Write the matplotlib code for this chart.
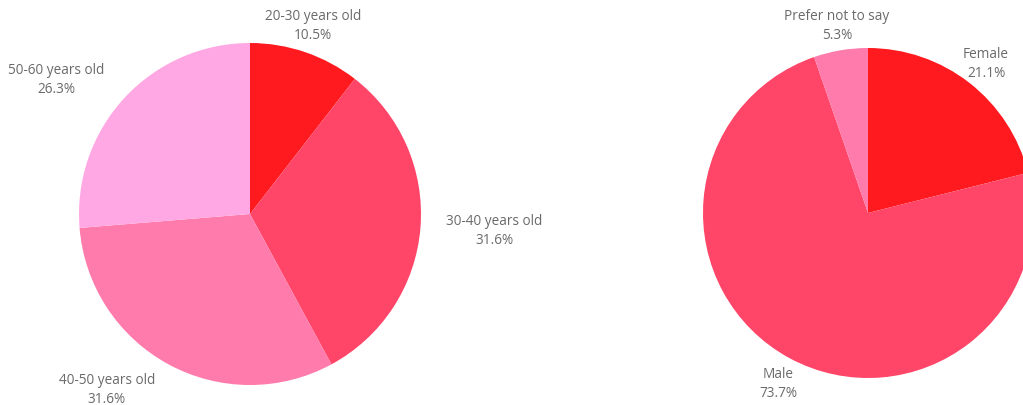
import matplotlib
matplotlib.use("Agg")
import matplotlib.pyplot as plt

# Age distribution
age_labels = ["20-30 years old", "30-40 years old", "40-50 years old", "50-60 years old"]
age_values = [10.5, 31.6, 31.6, 26.3]
age_colors = ["#ff1a1f", "#ff4568", "#ff7bac", "#ffa8e3"]

# Gender distribution
gender_labels = ["Female", "Male", "Prefer not to say"]
gender_values = [21.1, 73.7, 5.3]
gender_colors = ["#ff1a1f", "#ff4568", "#ff7bac"]

W, H = 1023, 405
fig = plt.figure(figsize=(W / 100, H / 100), dpi=100)
ax = fig.add_axes([0, 0, 1, 1])
ax.set_xlim(0, W)
ax.set_ylim(0, H)
ax.set_axis_off()


def flip(y):
    return H - y


def draw_pie(values, colors, cx, cy, r):
    ax.pie(values, colors=colors, startangle=90, counterclock=False,
           center=(cx, flip(cy)), radius=r,
           wedgeprops=dict(linewidth=0, antialiased=True), frame=True)


draw_pie(age_values, age_colors, 250, 214, 171)
draw_pie(gender_values, gender_colors, 868, 213, 165)
ax.set_xlim(0, W)
ax.set_ylim(0, H)
ax.set_axis_off()

# label anchor points (centre of the two-line label)
age_label_pos = [(313, 26), (494, 231), (107, 390), (56, 80)]
gender_label_pos = [(986, 64), (778, 384), (837, 26)]

text_style = dict(ha="center", va="center", fontsize=9.8, color="#6a6a6a",
                  family=["Open Sans", "DejaVu Sans"], linespacing=1.35)

for name, val, (x, y) in zip(age_labels, age_values, age_label_pos):
    ax.text(x, flip(y), f"{name}\n{val:.1f}%", **text_style)

for name, val, (x, y) in zip(gender_labels, gender_values, gender_label_pos):
    ax.text(x, flip(y), f"{name}\n{val:.1f}%", **text_style)

fig.savefig("out.png", dpi=100, facecolor="white")
